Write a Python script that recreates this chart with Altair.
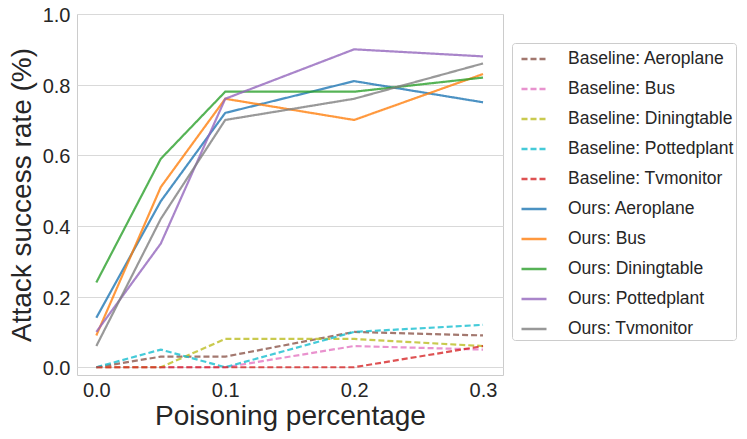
import altair as alt
import pandas as pd

x_vals = [0.0, 0.05, 0.1, 0.2, 0.3]
series_names = [
    "Baseline: Aeroplane", "Baseline: Bus", "Baseline: Diningtable",
    "Baseline: Pottedplant", "Baseline: Tvmonitor",
    "Ours: Aeroplane", "Ours: Bus", "Ours: Diningtable",
    "Ours: Pottedplant", "Ours: Tvmonitor",
]
base_aeroplane = [0.0, 0.03, 0.03, 0.10, 0.09]
base_bus = [0.0, 0.0, 0.0, 0.06, 0.05]
base_diningtable = [0.0, 0.0, 0.08, 0.08, 0.06]
base_pottedplant = [0.0, 0.05, 0.0, 0.10, 0.12]
base_tvmonitor = [0.0, 0.0, 0.0, 0.0, 0.06]
ours_aeroplane = [0.14, 0.47, 0.72, 0.81, 0.75]
ours_bus = [0.09, 0.51, 0.76, 0.70, 0.83]
ours_diningtable = [0.24, 0.59, 0.78, 0.78, 0.82]
ours_pottedplant = [0.10, 0.35, 0.76, 0.90, 0.88]
ours_tvmonitor = [0.06, 0.42, 0.70, 0.76, 0.86]

all_values = [base_aeroplane, base_bus, base_diningtable, base_pottedplant, base_tvmonitor,
              ours_aeroplane, ours_bus, ours_diningtable, ours_pottedplant, ours_tvmonitor]
colors = ["#8c564b", "#e377c2", "#bcbd22", "#17becf", "#d62728",
          "#1f77b4", "#ff7f0e", "#2ca02c", "#9467bd", "#7f7f7f"]
dashes = [[6, 3]] * 5 + [[1, 0]] * 5

rows = []
for name, vals in zip(series_names, all_values):
    for xv, yv in zip(x_vals, vals):
        rows.append({"x": xv, "y": yv, "series": name})
df = pd.DataFrame(rows)

font = "Liberation Sans"
chart = alt.Chart(df).mark_line(strokeWidth=2.2, opacity=0.8).encode(
    x=alt.X("x:Q", title="Poisoning percentage",
            scale=alt.Scale(domain=[-0.015, 0.3155], nice=False, zero=False),
            axis=alt.Axis(values=[0.0, 0.1, 0.2, 0.3], format=".1f", grid=False)),
    y=alt.Y("y:Q", title="Attack success rate (%)",
            scale=alt.Scale(domain=[-0.022, 1.0], nice=False, zero=False),
            axis=alt.Axis(values=[0.0, 0.2, 0.4, 0.6, 0.8, 1.0], format=".1f", grid=True,
                          labelOffset=1.5)),
    color=alt.Color("series:N", title=None,
                    scale=alt.Scale(domain=series_names, range=colors),
                    legend=alt.Legend(orient="none", legendX=435, legendY=29,
                                      symbolType="stroke", symbolSize=625,
                                      symbolStrokeWidth=2.5, symbolOffset=6,
                                      labelFontSize=17.5, labelFont=font, labelColor="#262626",
                                      labelOffset=20,
                                      rowPadding=7, padding=2,
                                      strokeColor="#cccccc", cornerRadius=3,
                                      fillColor="white", labelLimit=300)),
    strokeDash=alt.StrokeDash("series:N", title=None,
                              scale=alt.Scale(domain=series_names, range=dashes)),
).properties(
    width=426, height=361,
    autosize=alt.AutoSizeParams(type="none"),
    padding={"left": 69, "top": 6, "right": 236, "bottom": 56},
).configure_view(
    stroke="#cccccc", strokeWidth=1
).configure_axis(
    labelFont=font, titleFont=font, labelFontSize=20, titleFontSize=28,
    labelColor="#262626", titleColor="#262626", titleFontWeight="normal",
    domain=False, ticks=False, gridColor="#d9d9d9", gridWidth=1, labelPadding=7,
).configure_axisY(titlePadding=6).configure_axisX(titlePadding=2, labelPadding=5)

chart.save("out.html", embed_options={"renderer": "svg", "actions": False})
